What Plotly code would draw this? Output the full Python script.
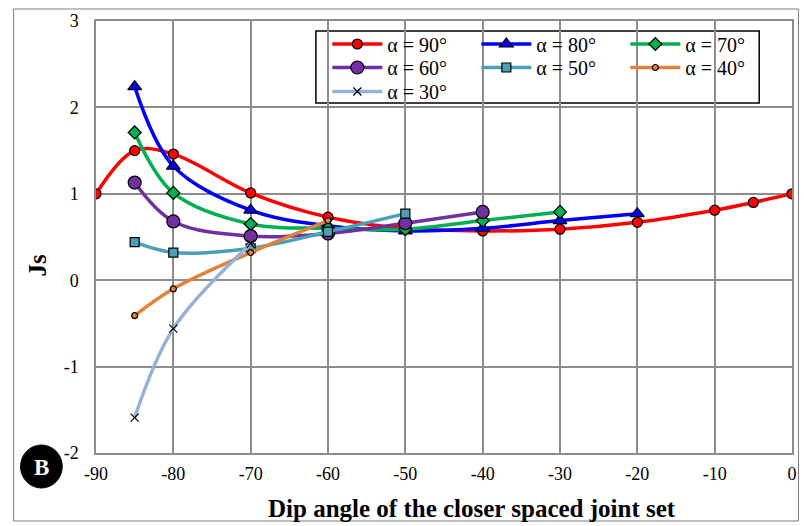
import plotly.graph_objects as go

# ---- data ----
x90 = [-90, -85, -80, -70, -60, -50, -40, -30, -20, -10, -5, 0]
y90 = [1.00, 1.50, 1.46, 1.01, 0.73, 0.60, 0.57, 0.59, 0.67, 0.81, 0.90, 1.00]
x80 = [-85, -80, -70, -60, -50, -40, -30, -20]
y80 = [2.24, 1.32, 0.81, 0.63, 0.57, 0.60, 0.69, 0.77]
x70 = [-85, -80, -70, -60, -50, -40, -30]
y70 = [1.71, 1.01, 0.65, 0.60, 0.59, 0.69, 0.79]
x60 = [-85, -80, -70, -60, -50, -40]
y60 = [1.13, 0.68, 0.51, 0.54, 0.66, 0.79]
x50 = [-85, -80, -70, -60, -50]
y50 = [0.44, 0.32, 0.37, 0.56, 0.77]
x40 = [-85, -80, -70, -60]
y40 = [-0.41, -0.10, 0.32, 0.69]
x30 = [-85, -80, -70]
y30 = [-1.59, -0.56, 0.42]

xticks = [-90, -80, -70, -60, -50, -40, -30, -20, -10, 0]
xticklabels = ["-90", "-80", "-70", "-60", "-50", "-40", "-30", "-20", "-10", "0"]
yticks = [-2, -1, 0, 1, 2, 3]
yticklabels = ["-2", "-1", "0", "1", "2", "3"]

series = [
    ("α = 90°", x90, y90, "#FF0000", "circle", 10, "legend"),
    ("α = 80°", x80, y80, "#0000FF", "triangle-up", 12, "legend"),
    ("α = 70°", x70, y70, "#00B050", "diamond", 10, "legend"),
    ("α = 60°", x60, y60, "#7030A0", "circle", 13, "legend2"),
    ("α = 50°", x50, y50, "#4BA0B5", "square", 9, "legend2"),
    ("α = 40°", x40, y40, "#E0823A", "circle", 6, "legend2"),
    ("α = 30°", x30, y30, "#95B1D8", "x-thin", 8, "legend3"),
]

FONT = "Liberation Serif, Times New Roman, serif"

fig = go.Figure()
for name, xs, ys, col, sym, sz, leg in series:
    fig.add_trace(go.Scatter(
        x=xs, y=ys, name=name, mode="lines+markers", legend=leg,
        line=dict(color=col, width=3.5, shape="spline", smoothing=1.0),
        marker=dict(symbol=sym, size=sz, color=col,
                    line=dict(color="black", width=1.2)),
    ))

# plot area in pixels: x 96..797, y 21..453
PL, PR, PT, PB = 96, 797, 21, 453
W, H = PR - PL, PB - PT


def px(x):
    return (x - PL) / W


def py(y):
    return (PB - y) / H


legend_common = dict(
    orientation="h", xanchor="left", yanchor="middle",
    bgcolor="rgba(0,0,0,0)", borderwidth=0,
    font=dict(family=FONT, size=20, color="black"),
    entrywidth=84, entrywidthmode="pixels", itemwidth=50,
)

grid = "#8c8c8c"
fig.update_layout(
    width=804, height=526,
    margin=dict(l=PL, r=804 - PR, t=PT, b=526 - PB),
    paper_bgcolor="white", plot_bgcolor="white",
    font=dict(family=FONT, size=18, color="black"),
    showlegend=True,
    legend=dict(x=px(329), y=py(44), **legend_common),
    legend2=dict(x=px(329), y=py(67.5), **legend_common),
    legend3=dict(x=px(329), y=py(91.5), **legend_common),
    xaxis=dict(
        range=[-90, 0], tickvals=xticks, ticktext=xticklabels,
        showgrid=True, gridcolor=grid, gridwidth=1.5,
        showline=True, linecolor=grid, linewidth=1.5, mirror=True,
        zeroline=False, ticks="", ticklabelstandoff=4,
        tickfont=dict(family=FONT, size=18),
    ),
    yaxis=dict(
        range=[-2, 3], tickvals=yticks, ticktext=yticklabels,
        showgrid=True, gridcolor=grid, gridwidth=1.5,
        showline=True, linecolor=grid, linewidth=1.5, mirror=True,
        zeroline=False, ticks="", ticklabelstandoff=12,
        tickfont=dict(family=FONT, size=18),
    ),
    shapes=[
        # outer frame
        dict(type="rect", xref="paper", yref="paper",
             x0=px(13), x1=px(803.5), y0=py(521), y1=py(9),
             line=dict(color="#7f7f7f", width=1)),
        # legend box
        dict(type="rect", xref="paper", yref="paper", layer="between",
             x0=px(317.5), x1=px(764), y0=py(103), y1=py(31),
             fillcolor="white", line=dict(color="black", width=1.5)),
        # panel badge
        dict(type="circle", xref="paper", yref="paper",
             x0=px(20), x1=px(62), y0=py(488), y1=py(445),
             fillcolor="black", line=dict(color="black", width=1)),
    ],
    annotations=[
        dict(text="<b>Dip angle of the closer spaced joint set</b>",
             xref="paper", yref="paper", x=px(475), y=py(508),
             xanchor="center", yanchor="middle", showarrow=False,
             font=dict(family=FONT, size=25, color="black")),
        dict(text="<b>Js</b>", textangle=-90,
             xref="paper", yref="paper", x=px(37), y=py(265),
             xanchor="center", yanchor="middle", showarrow=False,
             font=dict(family=FONT, size=25, color="black")),
        dict(text="<b>B</b>",
             xref="paper", yref="paper", x=px(41), y=py(467),
             xanchor="center", yanchor="middle", showarrow=False,
             font=dict(family=FONT, size=23, color="white")),
    ],
)

fig.write_html("out.html")
